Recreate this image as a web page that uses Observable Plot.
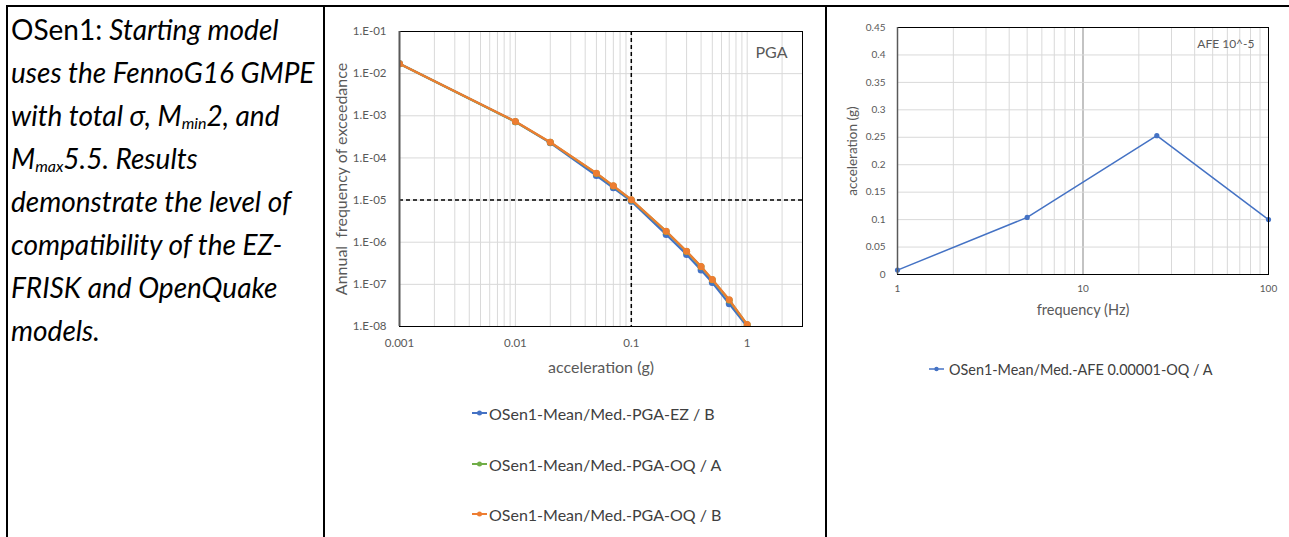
<!DOCTYPE html>
<html>
<head>
<meta charset="utf-8">
<script src="https://cdn.jsdelivr.net/npm/d3@7"></script>
<script src="https://cdn.jsdelivr.net/npm/@observablehq/plot@0.6"></script>
<style>
  html, body { margin: 0; padding: 0; background: #fff; }
  #page { position: relative; width: 1289px; height: 537px; overflow: hidden; font-family: Lato, "Open Sans", sans-serif; }
  .hline, .vline { position: absolute; background: #000; }
  #lefttext { position: absolute; left: 11px; top: 8px; font-size: 28px; line-height: 43px; color: #000; white-space: nowrap; }
  #lefttext i sub { font-size: 16px; vertical-align: -3px; line-height: 0; }
  .chart { position: absolute; }
  .chart svg text { white-space: pre; }
  .leg { position: absolute; display: flex; align-items: center; color: #404040; white-space: nowrap; }
  .leg svg { margin-right: 2px; }
</style>
</head>
<body>
<div id="page">
  <div class="hline" style="left:6px;top:5px;width:1283px;height:2px;"></div>
  <div class="vline" style="left:6px;top:5px;width:2px;height:532px;"></div>
  <div class="vline" style="left:323px;top:5px;width:2px;height:532px;"></div>
  <div class="vline" style="left:825px;top:5px;width:2px;height:532px;"></div>
  <div id="lefttext">OSen1: <i>Starting model</i><br><i>uses the FennoG16 GMPE</i><br><i>with total σ, M<sub>min</sub>2, and</i><br><i>M<sub>max</sub>5.5. Results</i><br><i>demonstrate the level of</i><br><i>compatibility of the EZ-</i><br><i>FRISK and OpenQuake</i><br><i>models.</i></div>
  <div id="chart1" class="chart" style="left:330px;top:10px;"></div>
  <div id="chart2" class="chart" style="left:830px;top:10px;"></div>
  <div id="legend1"></div>
  <div id="legend2"></div>
</div>
<script>
// ---------- Data: PGA hazard curves ----------
const pgaAccel = [0.001, 0.01, 0.02, 0.05, 0.07, 0.1, 0.2, 0.3, 0.4, 0.5, 0.7, 1.0];
const pgaEZ_B  = [1.71e-2, 7.2e-4, 2.28e-4, 3.83e-5, 1.95e-5, 9.4e-6, 1.52e-6, 5.1e-7, 2.2e-7, 1.1e-7, 3.45e-8, 1.0e-8];
const pgaOQ_A  = [1.71e-2, 7.25e-4, 2.34e-4, 4.3e-5, 2.15e-5, 1.01e-5, 1.8e-6, 6.0e-7, 2.6e-7, 1.28e-7, 4.2e-8, 1.1e-8];
const pgaOQ_B  = [1.71e-2, 7.3e-4, 2.36e-4, 4.35e-5, 2.18e-5, 1.02e-5, 1.82e-6, 6.1e-7, 2.65e-7, 1.30e-7, 4.3e-8, 1.11e-8];
const pgaSeriesNames = ["OSen1-Mean/Med.-PGA-EZ / B", "OSen1-Mean/Med.-PGA-OQ / A", "OSen1-Mean/Med.-PGA-OQ / B"];
const pgaColors = ["#4472C4", "#70AD47", "#ED7D31"];
const pgaXTicks = [0.001, 0.01, 0.1, 1];
const pgaYTicks = [1e-1, 1e-2, 1e-3, 1e-4, 1e-5, 1e-6, 1e-7, 1e-8];
const pgaRefAccel = [0.1];
const pgaRefAFE = [1e-5];

// ---------- Data: uniform hazard spectrum ----------
const uhsFreq = [1, 5, 25, 100];
const uhsAcc  = [0.008, 0.104, 0.253, 0.100];
const uhsSeriesName = "OSen1-Mean/Med.-AFE 0.00001-OQ / A";
const uhsColor = "#4472C4";
const uhsXTicks = [1, 10, 100];
const uhsYTicks = [0, 0.05, 0.1, 0.15, 0.2, 0.25, 0.3, 0.35, 0.4, 0.45];

// minor log gridlines (1..9 per decade)
function logMinor(lo, hi) {
  const out = [];
  for (let e = Math.floor(Math.log10(lo)); e <= Math.ceil(Math.log10(hi)); e++)
    for (let m = 1; m <= 9; m++) { const v = +(m * Math.pow(10, e)).toPrecision(3); if (v >= lo && v <= hi) out.push(v); }
  return out;
}

const font = "Lato, 'Open Sans', sans-serif";
const gray = "#595959";

// ---------- Chart 1 ----------
const pgaRows = pgaSeriesNames.map((name, i) => ({name, color: pgaColors[i], vals: [pgaEZ_B, pgaOQ_A, pgaOQ_B][i]}));
const lineMarks = [];
for (const s of pgaRows) {
  const rows = pgaAccel.map((a, j) => ({a, f: s.vals[j]}));
  lineMarks.push(Plot.line(rows, {x: "a", y: "f", stroke: s.color, strokeWidth: 2.25, clip: true}));
  lineMarks.push(Plot.dot(rows, {x: "a", y: "f", fill: s.color, r: 3.5, clip: true}));
}

const chart1 = Plot.plot({
  width: 480, height: 371,
  marginLeft: 69, marginRight: 8, marginTop: 21, marginBottom: 55,
  style: {fontFamily: font, background: "transparent", overflow: "visible"},
  x: {type: "log", domain: [0.001, 3]},
  y: {type: "log", domain: [1e-8, 1e-1]},
  marks: [
    Plot.gridX(logMinor(0.001, 3), {stroke: "#d9d9d9", strokeOpacity: 1, strokeWidth: 1}),
    Plot.gridY(pgaYTicks, {stroke: "#d9d9d9", strokeOpacity: 1, strokeWidth: 1}),
    Plot.ruleX(pgaRefAccel, {stroke: "#000", strokeWidth: 1.5, strokeDasharray: "4,3"}),
    Plot.ruleY(pgaRefAFE, {stroke: "#000", strokeWidth: 1.5, strokeDasharray: "4,3"}),
    ...lineMarks,
    Plot.frame({stroke: "#000", strokeWidth: 1}),
    Plot.ruleX([0.001], {stroke: gray, strokeWidth: 2}),
    Plot.axisX(pgaXTicks, {tickSize: 0, tickPadding: 12, tickFormat: d => String(d), label: null, fontSize: 11.5, fill: gray}),
    Plot.axisY(pgaYTicks, {tickSize: 0, tickPadding: 13, tickFormat: d => "1.E-" + String(Math.round(-Math.log10(d))).padStart(2, "0"), label: null, fontSize: 11.5, fill: gray}),
    Plot.text(["acceleration (g)"], {text: d => d, frameAnchor: "bottom", dy: 41, textAnchor: "middle", lineAnchor: "middle", fontSize: 16, fill: gray}),
    Plot.text(["Annual  frequency of exceedance"], {text: d => d, frameAnchor: "left", dx: -58, rotate: -90, textAnchor: "middle", lineAnchor: "middle", fontSize: 16, fill: gray}),
    Plot.text(["PGA"], {text: d => d, frameAnchor: "top-right", dx: -15, dy: 21, textAnchor: "end", lineAnchor: "middle", fontSize: 16, fill: gray})
  ]
});
document.getElementById("chart1").appendChild(chart1);

// ---------- Chart 2 ----------
const uhsRows = uhsFreq.map((f, j) => ({f, a: uhsAcc[j]}));
const chart2 = Plot.plot({
  width: 450, height: 314,
  marginLeft: 67, marginRight: 12, marginTop: 17, marginBottom: 50,
  style: {fontFamily: font, background: "transparent", overflow: "visible"},
  x: {type: "log", domain: [1, 100]},
  y: {domain: [0, 0.45]},
  marks: [
    Plot.gridX(logMinor(1, 100), {stroke: "#d9d9d9", strokeOpacity: 1, strokeWidth: 1}),
    Plot.gridX([10], {stroke: "#9a9a9a", strokeOpacity: 1, strokeWidth: 1}),
    Plot.gridY(uhsYTicks, {stroke: "#d9d9d9", strokeOpacity: 1, strokeWidth: 1}),
    Plot.line(uhsRows, {x: "f", y: "a", stroke: uhsColor, strokeWidth: 1.5}),
    Plot.dot(uhsRows, {x: "f", y: "a", fill: uhsColor, r: 2.6}),
    Plot.frame({stroke: "#000", strokeWidth: 1}),
    Plot.ruleX([1], {stroke: gray, strokeWidth: 1.5}),
    Plot.axisX(uhsXTicks, {tickSize: 0, tickPadding: 10, tickFormat: d => String(d), label: null, fontSize: 10, fill: gray}),
    Plot.axisY(uhsYTicks, {tickSize: 0, tickPadding: 12, tickFormat: d => d === 0 ? "0" : String(+d.toFixed(2)), label: null, fontSize: 10, fill: gray}),
    Plot.text(["frequency (Hz)"], {text: d => d, frameAnchor: "bottom", dy: 36, textAnchor: "middle", lineAnchor: "middle", fontSize: 14.5, fill: gray}),
    Plot.text(["acceleration (g)"], {text: d => d, frameAnchor: "left", dx: -45, rotate: -90, textAnchor: "middle", lineAnchor: "middle", fontSize: 13.5, fill: gray}),
    Plot.text(["AFE 10^-5"], {text: d => d, frameAnchor: "top-right", dx: -14, dy: 17, textAnchor: "end", lineAnchor: "middle", fontSize: 12, fill: gray})
  ]
});
document.getElementById("chart2").appendChild(chart2);

// ---------- Legends ----------
function swatch(color, w, r, sw) {
  return `<svg width="${w}" height="10" style="overflow:visible"><line x1="0" y1="5" x2="${w}" y2="5" stroke="${color}" stroke-width="${sw}"/><circle cx="${w/2}" cy="5" r="${r}" fill="${color}"/></svg>`;
}
const leg1 = document.getElementById("legend1");
const leg1Y = [413, 464, 514];
pgaSeriesNames.forEach((name, i) => {
  const d = document.createElement("div");
  d.className = "leg";
  d.style.left = "472px"; d.style.top = (leg1Y[i] - 12) + "px"; d.style.height = "24px"; d.style.fontSize = "16px";
  d.innerHTML = swatch(pgaColors[i], 15, 2.5, 2) + `<span>${name}</span>`;
  leg1.appendChild(d);
});
const leg2 = document.getElementById("legend2");
const d2 = document.createElement("div");
d2.className = "leg";
d2.style.left = "929px"; d2.style.top = (369 - 12) + "px"; d2.style.height = "24px"; d2.style.fontSize = "14.4px";
d2.innerHTML = swatch(uhsColor, 15, 2.2, 1.5) + `<span style="margin-left:3px">${uhsSeriesName}</span>`;
leg2.appendChild(d2);
</script>
</body>
</html>
